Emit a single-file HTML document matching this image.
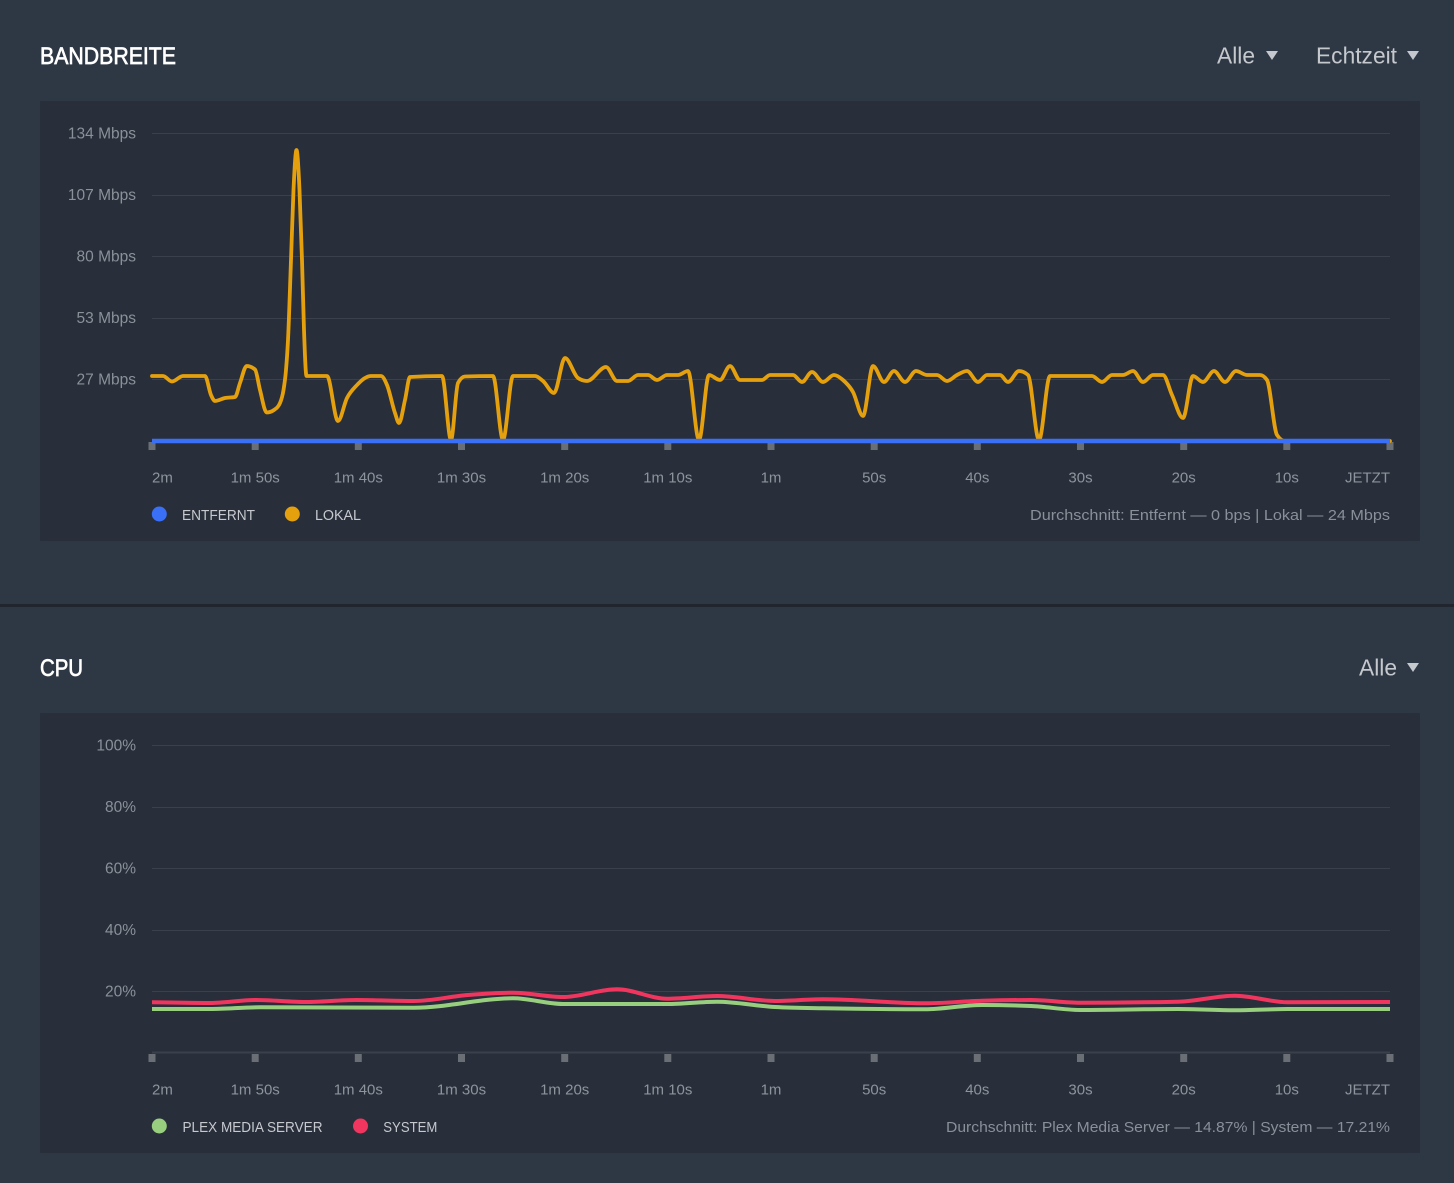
<!DOCTYPE html>
<html>
<head>
<meta charset="utf-8">
<style>
html,body{margin:0;padding:0;background:#2e3744;}
body{width:1454px;height:1183px;overflow:hidden;}
svg{display:block;font-family:"Liberation Sans",Arial,sans-serif;}
.yl{font-size:15.5px;fill:#8b9199;text-anchor:end;}
.xl{font-size:15px;fill:#8e949c;}
.lg{font-size:15px;fill:#c6c9ce;}
.st{font-size:15px;fill:#8a9099;text-anchor:end;}
.grid{stroke:#3a414c;stroke-width:1;}
.tk{fill:#6a6e75;}
</style>
</head>
<body>
<svg width="1454" height="1183" viewBox="0 0 1454 1183" xmlns="http://www.w3.org/2000/svg">
  <rect x="0" y="0" width="1454" height="1183" fill="#2e3744"/>
  <rect x="0" y="604" width="1454" height="3" fill="#21262e"/>

  <!-- BANDBREITE header -->
  <text x="40" y="64" font-size="24" fill="#ffffff" stroke="#ffffff" stroke-width="0.7" textLength="136" lengthAdjust="spacingAndGlyphs">BANDBREITE</text>
  <text x="1217" y="63.5" font-size="23" fill="#c5c8cd" textLength="38" lengthAdjust="spacingAndGlyphs">Alle</text>
  <polygon points="1266,51 1278,51 1272,60" fill="#c5c8cd"/>
  <text x="1316" y="63.5" font-size="23" fill="#c5c8cd" textLength="81" lengthAdjust="spacingAndGlyphs">Echtzeit</text>
  <polygon points="1407,51 1419,51 1413,60" fill="#c5c8cd"/>

  <!-- BANDBREITE panel -->
  <rect x="40" y="101" width="1380" height="440" fill="#282e3a"/>
  <g>
    <line class="grid" x1="152" x2="1390" y1="133.5" y2="133.5"/>
    <line class="grid" x1="152" x2="1390" y1="195.5" y2="195.5"/>
    <line class="grid" x1="152" x2="1390" y1="256.5" y2="256.5"/>
    <line class="grid" x1="152" x2="1390" y1="318.5" y2="318.5"/>
    <line class="grid" x1="152" x2="1390" y1="379.5" y2="379.5"/>
  </g>
  <text class="yl" x="136" y="138.5">134 Mbps</text>
  <text class="yl" x="136" y="200">107 Mbps</text>
  <text class="yl" x="136" y="261.5">80 Mbps</text>
  <text class="yl" x="136" y="323">53 Mbps</text>
  <text class="yl" x="136" y="384.5">27 Mbps</text>

  <g class="tk">
    <rect x="148.5" y="442" width="7" height="8"/>
    <rect x="251.7" y="442" width="7" height="8"/>
    <rect x="354.8" y="442" width="7" height="8"/>
    <rect x="458" y="442" width="7" height="8"/>
    <rect x="561.2" y="442" width="7" height="8"/>
    <rect x="664.3" y="442" width="7" height="8"/>
    <rect x="767.5" y="442" width="7" height="8"/>
    <rect x="870.7" y="442" width="7" height="8"/>
    <rect x="973.8" y="442" width="7" height="8"/>
    <rect x="1077" y="442" width="7" height="8"/>
    <rect x="1180.2" y="442" width="7" height="8"/>
    <rect x="1283.3" y="442" width="7" height="8"/>
    <rect x="1386.5" y="442" width="7" height="8"/>
  </g>

  <path id="lokal" fill="none" stroke="#e5a00d" stroke-width="3.8" stroke-linejoin="round" stroke-linecap="round"
   d="M152,376 L163,376 L172,381.5 L183,376 L205,376 L211,395 L215,401 L225,398 L235,397 L240,383 L246.7,366 L255,369.5 L260,390 L266.7,412.5 L274,410 L280,403 L283.5,390 L286,370 L288,340 L291,260 L293.5,190 L296.5,150 L299.5,190 L302,260 L304,330 L306.5,376 L327,376 L338,421 L347,398 L357,385 L365,378 L371,376 L381,376 L387,385 L395,413 L399,423 L405,400 L410,377 L442,376 L451,440 L458,383 L465,376.5 L493,376 L503,440 L513,376 L535,376 L543,381 L554,393 L565,358 L578,378 L587,381 L606,367 L617,381 L628,381 L638,375 L648,375 L657,380 L667,375 L678,375 L688,371 L699,440 L709,375 L720,380 L730,366 L740,380 L762,380 L770,375 L793,375 L802,382 L812,372 L823,382 L834,375 L843,380 L853,392 L863,416 L873,366 L884,382 L894,371 L905,382 L916,371 L927,375 L937,375 L947,381 L957,375 L967,371 L978,382 L987,375 L1000,375 L1008,382 L1019,371 L1028,375 L1039,440 L1050,376 L1092,376 L1102,382 L1112,375 L1123,375 L1133,371 L1143,382 L1153,375 L1163,375 L1172,395 L1183,418 L1193,376 L1203,382 L1214,371 L1225,382 L1236,371 L1247,375 L1260,375 L1267,380 L1277,435 L1285,441 L1390,441"/>
  <line x1="152" x2="1390" y1="441" y2="441" stroke="#3a6ff7" stroke-width="4.5"/>

  <text class="xl" x="152" y="482.5">2m</text>
  <text class="xl" x="255.2" y="482.5" text-anchor="middle">1m 50s</text>
  <text class="xl" x="358.3" y="482.5" text-anchor="middle">1m 40s</text>
  <text class="xl" x="461.5" y="482.5" text-anchor="middle">1m 30s</text>
  <text class="xl" x="564.7" y="482.5" text-anchor="middle">1m 20s</text>
  <text class="xl" x="667.8" y="482.5" text-anchor="middle">1m 10s</text>
  <text class="xl" x="771" y="482.5" text-anchor="middle">1m</text>
  <text class="xl" x="874.2" y="482.5" text-anchor="middle">50s</text>
  <text class="xl" x="977.3" y="482.5" text-anchor="middle">40s</text>
  <text class="xl" x="1080.5" y="482.5" text-anchor="middle">30s</text>
  <text class="xl" x="1183.7" y="482.5" text-anchor="middle">20s</text>
  <text class="xl" x="1286.8" y="482.5" text-anchor="middle">10s</text>
  <text class="xl" x="1390" y="482.5" text-anchor="end">JETZT</text>

  <circle cx="159.3" cy="514" r="7.5" fill="#3a6ff7"/>
  <text class="lg" x="182" y="520" textLength="73" lengthAdjust="spacingAndGlyphs">ENTFERNT</text>
  <circle cx="292.3" cy="514" r="7.5" fill="#e5a00d"/>
  <text class="lg" x="315" y="520" textLength="46" lengthAdjust="spacingAndGlyphs">LOKAL</text>
  <text class="st" x="1390" y="520" textLength="360" lengthAdjust="spacingAndGlyphs">Durchschnitt: Entfernt — 0 bps | Lokal — 24 Mbps</text>

  <!-- CPU header -->
  <text x="40" y="676" font-size="24" fill="#ffffff" stroke="#ffffff" stroke-width="0.7" textLength="43" lengthAdjust="spacingAndGlyphs">CPU</text>
  <text x="1359" y="675.5" font-size="23" fill="#c5c8cd" textLength="38" lengthAdjust="spacingAndGlyphs">Alle</text>
  <polygon points="1407,663 1419,663 1413,672" fill="#c5c8cd"/>

  <!-- CPU panel -->
  <rect x="40" y="713" width="1380" height="440" fill="#282e3a"/>
  <g>
    <line class="grid" x1="152" x2="1390" y1="745.5" y2="745.5"/>
    <line class="grid" x1="152" x2="1390" y1="807.5" y2="807.5"/>
    <line class="grid" x1="152" x2="1390" y1="868.5" y2="868.5"/>
    <line class="grid" x1="152" x2="1390" y1="930.5" y2="930.5"/>
    <line class="grid" x1="152" x2="1390" y1="991.5" y2="991.5"/>
    <line x1="152" x2="1390" y1="1052.5" y2="1052.5" stroke="#3a414c" stroke-width="2"/>
  </g>
  <text class="yl" x="136" y="750.5">100%</text>
  <text class="yl" x="136" y="812">80%</text>
  <text class="yl" x="136" y="873.5">60%</text>
  <text class="yl" x="136" y="935">40%</text>
  <text class="yl" x="136" y="996.5">20%</text>

  <g class="tk">
    <rect x="148.5" y="1054" width="7" height="8"/>
    <rect x="251.7" y="1054" width="7" height="8"/>
    <rect x="354.8" y="1054" width="7" height="8"/>
    <rect x="458" y="1054" width="7" height="8"/>
    <rect x="561.2" y="1054" width="7" height="8"/>
    <rect x="664.3" y="1054" width="7" height="8"/>
    <rect x="767.5" y="1054" width="7" height="8"/>
    <rect x="870.7" y="1054" width="7" height="8"/>
    <rect x="973.8" y="1054" width="7" height="8"/>
    <rect x="1077" y="1054" width="7" height="8"/>
    <rect x="1180.2" y="1054" width="7" height="8"/>
    <rect x="1283.3" y="1054" width="7" height="8"/>
    <rect x="1386.5" y="1054" width="7" height="8"/>
  </g>

  <path id="plex" fill="none" stroke="#98cf7f" stroke-width="4" stroke-linejoin="round"
   d="M152,1009 L210,1009 L260,1007.3 L414,1007.7 L513,998.3 L563,1004 L667,1004 L717,1001.7 L775,1007 L823,1008.3 L925,1009.3 L982,1005 L1031,1006 L1080,1010 L1178,1009 L1235,1010.3 L1288,1009 L1390,1009"/>
  <path id="sys" fill="none" stroke="#f0365f" stroke-width="4" stroke-linejoin="round"
   d="M152,1002.3 L210,1003 L256,1000 L306,1002 L356,1000 L414,1001 L468,995 L513,992.7 L563,997 L617,989.3 L667,998.7 L717,996 L775,1001 L823,999.3 L925,1003.3 L982,1000.7 L1031,1000 L1080,1002.7 L1178,1001.7 L1235,995.7 L1288,1002.3 L1390,1002"/>

  <text class="xl" x="152" y="1094.5">2m</text>
  <text class="xl" x="255.2" y="1094.5" text-anchor="middle">1m 50s</text>
  <text class="xl" x="358.3" y="1094.5" text-anchor="middle">1m 40s</text>
  <text class="xl" x="461.5" y="1094.5" text-anchor="middle">1m 30s</text>
  <text class="xl" x="564.7" y="1094.5" text-anchor="middle">1m 20s</text>
  <text class="xl" x="667.8" y="1094.5" text-anchor="middle">1m 10s</text>
  <text class="xl" x="771" y="1094.5" text-anchor="middle">1m</text>
  <text class="xl" x="874.2" y="1094.5" text-anchor="middle">50s</text>
  <text class="xl" x="977.3" y="1094.5" text-anchor="middle">40s</text>
  <text class="xl" x="1080.5" y="1094.5" text-anchor="middle">30s</text>
  <text class="xl" x="1183.7" y="1094.5" text-anchor="middle">20s</text>
  <text class="xl" x="1286.8" y="1094.5" text-anchor="middle">10s</text>
  <text class="xl" x="1390" y="1094.5" text-anchor="end">JETZT</text>

  <circle cx="159.3" cy="1126" r="7.5" fill="#98cf7f"/>
  <text class="lg" x="182.5" y="1132" textLength="140" lengthAdjust="spacingAndGlyphs">PLEX MEDIA SERVER</text>
  <circle cx="360.5" cy="1126" r="7.5" fill="#f0365f"/>
  <text class="lg" x="383.3" y="1132" textLength="54" lengthAdjust="spacingAndGlyphs">SYSTEM</text>
  <text class="st" x="1390" y="1132" textLength="444" lengthAdjust="spacingAndGlyphs">Durchschnitt: Plex Media Server — 14.87% | System — 17.21%</text>
</svg>
<script>
(function(){
  function mono(pts){
    var n=pts.length,m=new Array(n),s=[],i;
    for(i=0;i<n-1;i++){s.push((pts[i+1][1]-pts[i][1])/(pts[i+1][0]-pts[i][0]));}
    for(i=1;i<n-1;i++){
      var h0=pts[i][0]-pts[i-1][0],h1=pts[i+1][0]-pts[i][0],s0=s[i-1],s1=s[i];
      var p=(s0*h1+s1*h0)/(h0+h1);
      m[i]=(Math.sign(s0)+Math.sign(s1))*Math.min(Math.abs(s0),Math.abs(s1),0.5*Math.abs(p))||0;
    }
    m[0]=(3*s[0]-m[1])/2; m[n-1]=(3*s[n-2]-m[n-2])/2;
    var d='M'+pts[0][0]+','+pts[0][1];
    for(i=0;i<n-1;i++){
      var h=(pts[i+1][0]-pts[i][0])/3;
      d+='C'+(pts[i][0]+h).toFixed(2)+','+(pts[i][1]+h*m[i]).toFixed(2)+','+(pts[i+1][0]-h).toFixed(2)+','+(pts[i+1][1]-h*m[i+1]).toFixed(2)+','+pts[i+1][0]+','+pts[i+1][1];
    }
    return d;
  }
  ['lokal','plex','sys'].forEach(function(id){
    var el=document.getElementById(id);
    var nums=el.getAttribute('d').match(/-?\d+(\.\d+)?/g).map(Number);
    var pts=[];for(var i=0;i<nums.length;i+=2){pts.push([nums[i],nums[i+1]]);}
    el.setAttribute('d',mono(pts));
  });
})();
</script>
</body>
</html>
